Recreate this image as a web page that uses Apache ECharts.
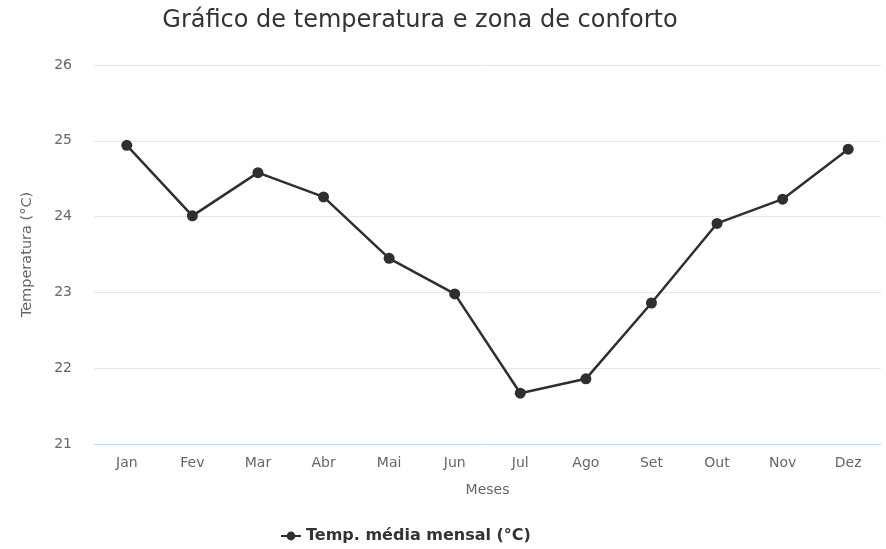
<!DOCTYPE html>
<html lang="pt">
<head>
    <meta charset="UTF-8">
    <title>Gráfico de temperatura e zona de conforto</title>
    <script src="https://cdn.jsdelivr.net/npm/echarts@6/dist/echarts.min.js"></script>
    <style>
        html, body { margin: 0; padding: 0; background: #fff; }
        #chart { width: 886px; height: 549px; }
    </style>
</head>
<body>
    <div id="chart"></div>
    <script>
        // dados
        const meses = ['Jan', 'Fev', 'Mar', 'Abr', 'Mai', 'Jun', 'Jul', 'Ago', 'Set', 'Out', 'Nov', 'Dez'];
        const tempMedia = [24.94, 24.01, 24.58, 24.26, 23.45, 22.98, 21.67, 21.86, 22.86, 23.91, 24.23, 24.89];
        const serieNome = 'Temp. média mensal (°C)';

        const fonte = '"DejaVu Sans", sans-serif';

        const option = {
            animation: false,
            title: {
                text: 'Gráfico de temperatura e zona de conforto',
                left: 415,
                textAlign: 'center',
                top: 4,
                textStyle: { fontFamily: fonte, fontSize: 24, fontWeight: 'normal', color: '#333' }
            },
            legend: {
                data: [serieNome],
                bottom: 0,
                left: 275,
                itemWidth: 20,
                itemHeight: 11,
                textStyle: { fontFamily: fonte, fontSize: 16, fontWeight: 'bold', color: '#333' }
            },
            grid: { left: 94, right: 5, top: 65, bottom: 105 },
            xAxis: {
                type: 'category',
                data: meses,
                name: 'Meses',
                nameLocation: 'middle',
                nameGap: 39,
                nameTextStyle: { fontFamily: fonte, fontSize: 14, color: '#666' },
                axisLine: { lineStyle: { color: '#ccd6eb' } },
                axisTick: { show: false },
                axisLabel: { fontFamily: fonte, fontSize: 14, color: '#666', margin: 12 }
            },
            yAxis: {
                type: 'value',
                min: 21,
                max: 26,
                interval: 1,
                name: 'Temperatura (°C)',
                nameLocation: 'middle',
                nameGap: 59,
                nameTextStyle: { fontFamily: fonte, fontSize: 14.5, color: '#666' },
                axisLine: { show: false },
                axisTick: { show: false },
                axisLabel: { fontFamily: fonte, fontSize: 14, color: '#666', margin: 22 },
                splitLine: { lineStyle: { color: '#e6e6e6' } }
            },
            series: [{
                name: serieNome,
                type: 'line',
                data: tempMedia,
                symbol: 'circle',
                symbolSize: 11,
                itemStyle: { color: '#2f2f2f' },
                lineStyle: { color: '#2f2f2f', width: 2.5 }
            }]
        };

        const chart = echarts.init(document.getElementById('chart'));
        chart.setOption(option);
    </script>
</body>
</html>
